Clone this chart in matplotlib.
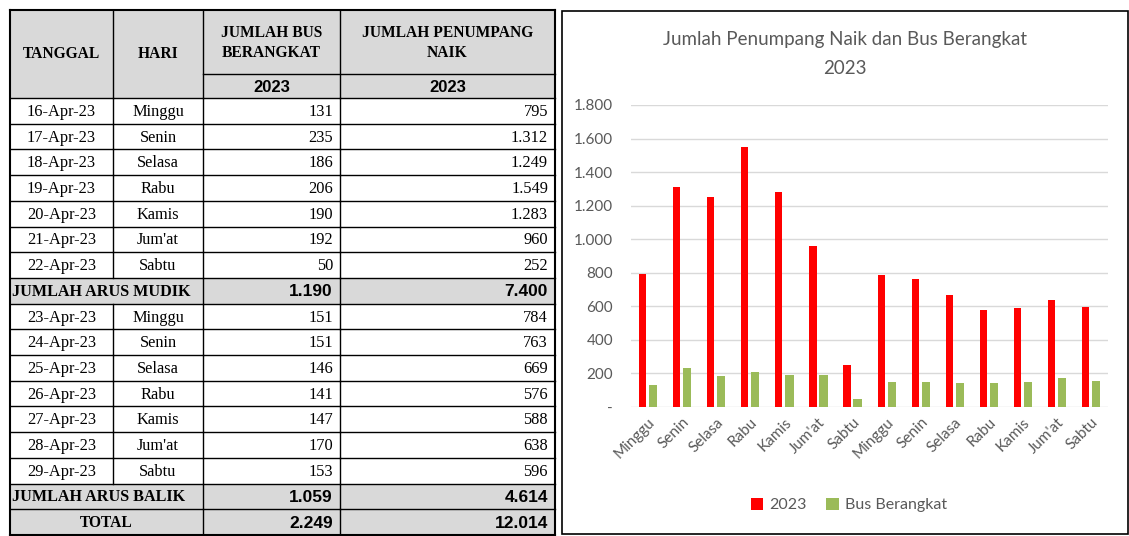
import numpy as np
import matplotlib
matplotlib.use('Agg')
import matplotlib.pyplot as plt
from matplotlib.patches import Rectangle
from matplotlib.ticker import FuncFormatter

# table data
tanggal = ['16-Apr-23', '17-Apr-23', '18-Apr-23', '19-Apr-23', '20-Apr-23', '21-Apr-23', '22-Apr-23',
           '23-Apr-23', '24-Apr-23', '25-Apr-23', '26-Apr-23', '27-Apr-23', '28-Apr-23', '29-Apr-23']
hari = ['Minggu', 'Senin', 'Selasa', 'Rabu', 'Kamis', "Jum'at", 'Sabtu',
        'Minggu', 'Senin', 'Selasa', 'Rabu', 'Kamis', "Jum'at", 'Sabtu']
bus = [131, 235, 186, 206, 190, 192, 50, 151, 151, 146, 141, 147, 170, 153]
penumpang = [795, 1312, 1249, 1549, 1283, 960, 252, 784, 763, 669, 576, 588, 638, 596]
sum_labels = ['JUMLAH ARUS MUDIK', 'JUMLAH ARUS BALIK', 'TOTAL']

def fmt(v):
    return f'{int(v):,}'.replace(',', '.')

W, H = 1129, 536
fig = plt.figure(figsize=(W / 100, H / 100), dpi=100)

#
# TABLE (drawn in pixel coords)
#
tb = fig.add_axes([0, 0, 1, 1])
tb.set_xlim(0, W)
tb.set_ylim(H, 0)
tb.axis('off')

cols = [10, 113, 203, 340, 555]
top, hdr1, hdr2, bottom = 10, 74, 98, 535
nrows = 17
rh = (bottom - hdr2) / nrows
grey = '#d9d9d9'
serif = 'Liberation Serif'
sans = 'Liberation Sans'
hsize = 11.2

# header background
tb.add_patch(Rectangle((cols[0], top), cols[-1] - cols[0], hdr2 - top, fc=grey, ec='none'))

# build row list: data rows with summary rows in between
rows = []
for i in range(7):
    rows.append(('d', i))
rows.append(('s', 0))
for i in range(7, 14):
    rows.append(('d', i))
rows.append(('s', 1))
rows.append(('s', 2))

mudik_bus, mudik_pn = sum(bus[:7]), sum(penumpang[:7])
balik_bus, balik_pn = sum(bus[7:]), sum(penumpang[7:])
sums = [(mudik_bus, mudik_pn), (balik_bus, balik_pn), (mudik_bus + balik_bus, mudik_pn + balik_pn)]

for r, (kind, idx) in enumerate(rows):
    y0 = hdr2 + r * rh
    yc = y0 + rh / 2 + 1
    if kind == 'd':
        tb.text((cols[0] + cols[1]) / 2, yc, tanggal[idx], ha='center', va='center',
                fontsize=11.8, family=serif)
        tb.text((cols[1] + cols[2]) / 2, yc, hari[idx], ha='center', va='center',
                fontsize=11.8, family=serif)
        tb.text(cols[3] - 7, yc, str(bus[idx]), ha='right', va='center', fontsize=11.8, family=serif)
        tb.text(cols[4] - 7, yc, fmt(penumpang[idx]), ha='right', va='center', fontsize=11.8, family=serif)
        tb.plot([cols[1], cols[1]], [y0, y0 + rh], color='black', lw=1)
    else:
        tb.add_patch(Rectangle((cols[0], y0), cols[-1] - cols[0], rh, fc=grey, ec='none'))
        if idx == 2:
            tb.text((cols[0] + cols[2]) / 2, yc, sum_labels[idx], ha='center', va='center',
                    fontsize=hsize, family=serif, weight='bold')
        else:
            tb.text(cols[0] + 2, yc, sum_labels[idx], ha='left', va='center',
                    fontsize=11.6, family=serif, weight='bold')
        tb.text(cols[3] - 7, yc, fmt(sums[idx][0]), ha='right', va='center', fontsize=12.5,
                family=sans, weight='bold')
        tb.text(cols[4] - 7, yc, fmt(sums[idx][1]), ha='right', va='center', fontsize=12.5,
                family=sans, weight='bold')
    tb.plot([cols[0], cols[-1]], [y0, y0], color='black', lw=1)
    for c in (cols[2], cols[3]):
        tb.plot([c, c], [y0, y0 + rh], color='black', lw=1)

# header lines and outer border
tb.plot([cols[0], cols[-1]], [top, top], color='black', lw=1.5)
tb.plot([cols[2], cols[-1]], [hdr1, hdr1], color='black', lw=1)
for c in cols[1:4]:
    tb.plot([c, c], [top, hdr2], color='black', lw=1)
tb.plot([cols[0], cols[0]], [top, bottom], color='black', lw=1.5)
tb.plot([cols[-1], cols[-1]], [top, bottom], color='black', lw=1.5)
tb.plot([cols[0], cols[-1]], [bottom, bottom], color='black', lw=1.5)

tb.text((cols[0] + cols[1]) / 2, (top + hdr2) / 2, 'TANGGAL', ha='center', va='center',
        fontsize=hsize, family=serif, weight='bold')
tb.text((cols[1] + cols[2]) / 2, (top + hdr2) / 2, 'HARI', ha='center', va='center',
        fontsize=hsize, family=serif, weight='bold')
tb.text((cols[2] + cols[3]) / 2, (top + hdr1) / 2 + 1, 'JUMLAH BUS\nBERANGKAT', ha='center', va='center',
        fontsize=hsize, family=serif, weight='bold', linespacing=1.35)
tb.text((cols[3] + cols[4]) / 2, (top + hdr1) / 2 + 1, 'JUMLAH PENUMPANG\nNAIK', ha='center', va='center',
        fontsize=hsize, family=serif, weight='bold', linespacing=1.35)
for c0, c1 in ((cols[2], cols[3]), (cols[3], cols[4])):
    tb.text((c0 + c1) / 2, (hdr1 + hdr2) / 2 + 1, '2023', ha='center', va='center',
            fontsize=12, family=sans, weight='bold')

# chart panel border
tb.add_patch(Rectangle((562, 11), 566, 523, fc='none', ec='black', lw=1.2))

#
# CHART
#
grey_txt = '#595959'
ax = fig.add_axes([631 / W, (H - 407) / H, 477 / W, 302 / H])
x = np.arange(len(hari))
ax.bar(x - 0.16, penumpang, width=0.21, color='#ff0000', label='2023', zorder=3)
ax.bar(x + 0.15, bus, width=0.24, color='#9bbb59', label='Bus Berangkat', zorder=3)

ax.set_xlim(-0.5, len(hari) - 0.5)
ax.set_ylim(0, 1800)
ax.set_yticks(np.arange(0, 1801, 200))
ax.yaxis.set_major_formatter(FuncFormatter(lambda v, p: '-' if v == 0 else fmt(v)))
ax.grid(axis='y', color='#d9d9d9', lw=1, zorder=0)
for s in ax.spines.values():
    s.set_visible(False)
ax.tick_params(length=0, colors=grey_txt, labelsize=11)
ax.tick_params(axis='y', pad=13)
ax.tick_params(axis='x', pad=6)
ax.set_xticks(x)
ax.set_xticklabels(hari, rotation=45, ha='right', rotation_mode='anchor', family='Lato')
for t in ax.get_yticklabels():
    t.set_family('Lato')

fig.text(845 / W, 1 - 40 / H, 'Jumlah Penumpang Naik dan Bus Berangkat', ha='center', va='center',
         fontsize=13.5, color=grey_txt, family='Lato')
fig.text(845 / W, 1 - 68 / H, '2023', ha='center', va='center',
         fontsize=13.5, color=grey_txt, family='Lato')

leg = fig.legend(loc='center', bbox_to_anchor=(849 / W, 1 - 505 / H), ncol=2, frameon=False,
                 handlelength=0.8, handleheight=0.8, handletextpad=0.4, columnspacing=1.2,
                 prop={'family': 'Lato', 'size': 11.5})
for t in leg.get_texts():
    t.set_color(grey_txt)

fig.savefig('out.png', dpi=100)
